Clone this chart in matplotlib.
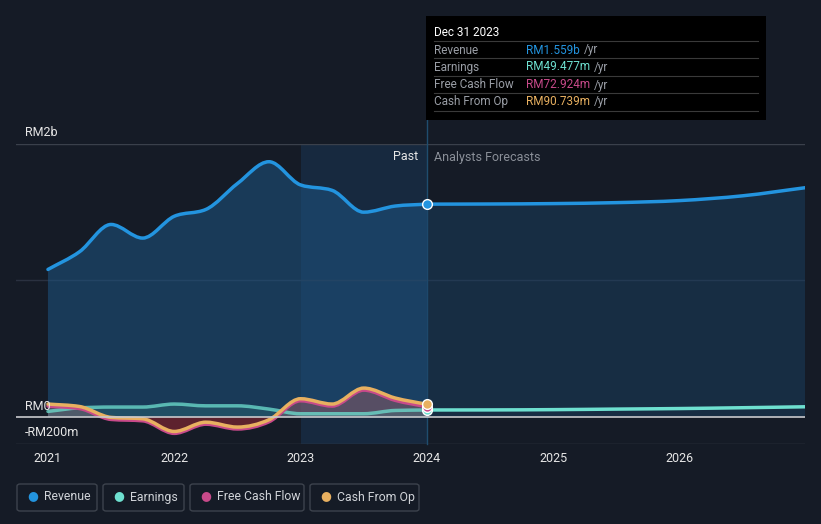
import numpy as np
import matplotlib.pyplot as plt
from matplotlib.patches import FancyBboxPatch, Rectangle, PathPatch
from matplotlib.path import Path

# past data, quarterly (year fraction), values in RM billions / millions
past_t = [2021.0, 2021.25, 2021.5, 2021.75, 2022.0, 2022.25, 2022.5, 2022.75,
          2023.0, 2023.25, 2023.5, 2023.75, 2024.0]
revenue = [1.08, 1.21, 1.41, 1.31, 1.47, 1.52, 1.71, 1.87, 1.70, 1.66, 1.50, 1.545, 1.559]
earnings = [39, 65, 71, 71, 93, 80, 80, 56, 22, 22, 22, 46, 49.477]
fcf = [78, 60, -20, -30, -122, -55, -90, -37, 117, 78, 195, 120, 72.924]
cfo = [93, 75, -5, -15, -108, -40, -76, -22, 132, 93, 210, 137, 90.739]

# analyst forecasts
fc_t = [2024.0, 2024.5, 2025.0, 2025.5, 2026.0, 2026.5, 2027.0]
fc_revenue = [1.559, 1.56, 1.563, 1.57, 1.585, 1.62, 1.68]
fc_earnings = [49.477, 50, 52, 56, 60, 66, 73]

years = [2021, 2022, 2023, 2024, 2025, 2026]

BG = '#151b26'
C_REV = '#2394df'
C_EARN = '#6ee0d0'
C_FCF = '#c84a8a'
C_CFO = '#e8b060'
plt.rcParams['font.family'] = ['Roboto', 'DejaVu Sans']


def smooth(xs, ys, base=None):
    # monotone cubic (like d3 curveMonotoneX) as bezier path
    x = np.asarray(xs, float)
    y = np.asarray(ys, float)
    n = len(x)
    h = np.diff(x)
    d = np.diff(y) / h
    t = np.zeros(n)
    for i in range(1, n - 1):
        if d[i - 1] * d[i] <= 0:
            t[i] = 0
        else:
            p = (d[i - 1] * h[i] + d[i] * h[i - 1]) / (h[i - 1] + h[i])
            t[i] = np.sign(d[i]) * min(abs(d[i - 1]), abs(d[i]), 0.5 * abs(p)) * 2
    t[0] = d[0]
    t[-1] = d[-1]
    verts = [(x[0], y[0])]
    codes = [Path.MOVETO]
    for i in range(n - 1):
        dx = h[i] / 3
        verts += [(x[i] + dx, y[i] + t[i] * dx), (x[i + 1] - dx, y[i + 1] - t[i + 1] * dx),
                  (x[i + 1], y[i + 1])]
        codes += [Path.CURVE4] * 3
    if base is not None:
        verts += [(x[-1], base), (x[0], base), (x[0], y[0])]
        codes += [Path.LINETO, Path.LINETO, Path.CLOSEPOLY]
    return Path(verts, codes)


def line(ax, xs, ys, color, z, alpha=1.0):
    ax.add_patch(PathPatch(smooth(xs, ys), facecolor='none', edgecolor=color, lw=2.5,
                           alpha=alpha, capstyle='round', joinstyle='round', zorder=z))


def area(ax, xs, ys, color, alpha, z, clip=None):
    p = PathPatch(smooth(xs, ys, base=0), facecolor=color, edgecolor='none', alpha=alpha, zorder=z)
    ax.add_patch(p)
    if clip is not None:
        r = Rectangle((clip[0], clip[1]), clip[2], clip[3], transform=ax.transData)
        p.set_clip_path(r)


fig = plt.figure(figsize=(8.21, 5.24), dpi=100, facecolor=BG)
ax = fig.add_axes([16/821, 80/524, 789/821, 300/524])
ax.set_facecolor(BG)
ax.set_xlim(2020.747, 2026.994)
ax.set_ylim(-0.2, 2.0)


def m(v):
    return np.array(v) / 1000.0


# past band highlight (2023-2024)
ax.axvspan(2023.0, 2024.0, color='#1a3858', alpha=0.5, lw=0, zorder=0)

# gridlines
ax.axhline(2.0, color='#3a404b', lw=1, zorder=1)
ax.axhline(1.0, color='#2a3140', lw=1, zorder=1)
ax.axhline(-0.2, color='#3a404b', lw=1, zorder=1)

# revenue
area(ax, past_t, revenue, '#1e5482', 0.55, 2)
area(ax, fc_t, fc_revenue, '#1b4468', 0.45, 2)
line(ax, past_t, revenue, C_REV, 5)
line(ax, fc_t, fc_revenue, C_REV, 5)

# cash flows
area(ax, past_t, m(cfo), '#8a5a66', 0.55, 3, clip=(2020, 0, 10, 5))
area(ax, past_t, m(cfo), '#6a2430', 0.85, 3, clip=(2020, -5, 10, 5))
area(ax, past_t, m(earnings), '#3a8a88', 0.25, 3)
line(ax, past_t, m(earnings), C_EARN, 4, alpha=0.75)
line(ax, fc_t, m(fc_earnings), C_EARN, 4)
line(ax, past_t, m(fcf), C_FCF, 6)
line(ax, past_t, m(cfo), C_CFO, 7)

# zero line
ax.axhline(0, color='#c8cacd', lw=1.2, zorder=8)

# end markers
ax.plot(2024.0, revenue[-1], 'o', ms=7, mfc=C_REV, mec='white', mew=1, zorder=9)
ax.plot(2024.0, m(earnings[-1]), 'o', ms=7, mfc=C_EARN, mec='white', mew=1, zorder=9)
ax.plot(2024.0, m(fcf[-1]), 'o', ms=7, mfc=C_FCF, mec='white', mew=1, zorder=9)
ax.plot(2024.0, m(cfo[-1]), 'o', ms=7, mfc=C_CFO, mec='white', mew=1, zorder=10)

# vertical marker line extends up to the tooltip
ax.plot([2024.0, 2024.0], [-0.2, 2.6], color='#1f4d6e', lw=1, zorder=1, clip_on=False)

for s in ax.spines.values():
    s.set_visible(False)
ax.set_yticks([])
ax.set_xticks(years)
ax.set_xticklabels([str(y) for y in years], color='#e6e6e6', fontsize=9)
ax.tick_params(axis='x', length=0, pad=6)

# y labels
fig.text(25/821, 1 - 132.5/524, 'RM2b', color='#e6e6e6', fontsize=9, va='center')
fig.text(25/821, 1 - 406/524, 'RM0', color='#e6e6e6', fontsize=9, va='center')
fig.text(25/821, 1 - 433/524, '-RM200m', color='#e6e6e6', fontsize=9, va='center')

fig.text(418/821, 1 - 157/524, 'Past', color='#e6e6e6', fontsize=9, va='center', ha='right')
fig.text(434/821, 1 - 157/524, 'Analysts Forecasts', color='#8a8f98', fontsize=9, va='center')

# tooltip
tip = Rectangle((426/821, 1 - 120/524), 340/821, 104/524, transform=fig.transFigure,
                facecolor='black', edgecolor='none', zorder=20)
fig.patches.append(tip)
fig.text(434/821, 1 - 32/524, 'Dec 31 2023', color='white', fontsize=8.5, va='center', zorder=21)
rows = [('Revenue', 'RM1.559b', C_REV, 50),
        ('Earnings', 'RM49.477m', C_EARN, 67),
        ('Free Cash Flow', 'RM72.924m', C_FCF, 85),
        ('Cash From Op', 'RM90.739m', C_CFO, 102)]
for sep in [41, 58, 76, 93, 111]:
    fig.add_artist(plt.Line2D([434/821, 758/821], [1 - sep/524, 1 - sep/524],
                              transform=fig.transFigure, color='#3a3a3a', lw=0.8, zorder=21))
fig.canvas.draw()
for label, val, col, y in rows:
    fig.text(434/821, 1 - y/524, label, color='#9a9ea6', fontsize=8.5, va='center', zorder=22)
    t = fig.text(526/821, 1 - y/524, val, color=col, fontsize=8.5, va='center', zorder=22)
    bb = t.get_window_extent(renderer=fig.canvas.get_renderer())
    fig.text(bb.x1 / 821 + 4/821, 1 - y/524, '/yr', color='#9a9ea6', fontsize=8.5, va='center', zorder=22)

# legend boxes
items = [('Revenue', C_REV, 17, 97), ('Earnings', C_EARN, 103, 184),
         ('Free Cash Flow', C_FCF, 190, 304), ('Cash From Op', C_CFO, 310, 419)]
for label, col, x0, x1 in items:
    box = FancyBboxPatch((x0/821, 1 - 511/524), (x1 - x0)/821, 27/524,
                         boxstyle='round,pad=0,rounding_size=0.004', transform=fig.transFigure,
                         facecolor='none', edgecolor='#3d434d', lw=1)
    fig.patches.append(box)
    fig.text((x0 + 16)/821, 1 - 496/524, '\u25cf', color=col, fontsize=9, va='center', ha='center')
    fig.text((x0 + 27)/821, 1 - 497/524, label, color='#d0d3d8', fontsize=8.8, va='center')

fig.savefig('out.png', dpi=100, facecolor=BG)
